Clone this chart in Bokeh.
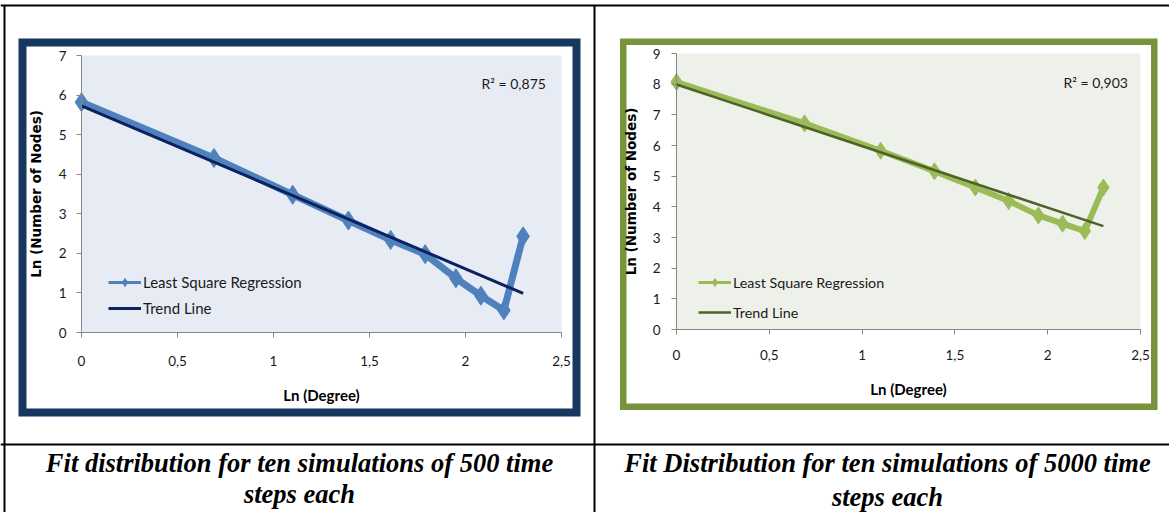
from bokeh.plotting import figure
from bokeh.models import (Range1d, FixedTicker, Label, Legend, LegendItem, LinearAxis)
from bokeh.embed import file_html
from bokeh.resources import INLINE

# ---------------- data ----------------
ln_degree = [0.0, 0.69, 1.10, 1.39, 1.61, 1.79, 1.95, 2.08, 2.20, 2.30]
ln_nodes_500 = [5.82, 4.41, 3.48, 2.83, 2.34, 1.98, 1.37, 0.93, 0.56, 2.43]
ln_nodes_5000 = [8.07, 6.72, 5.83, 5.16, 4.63, 4.19, 3.72, 3.45, 3.21, 4.63]
trend_x = [0.0, 2.30]
trend_500 = [5.73, 0.99]
trend_5000 = [7.99, 3.37]
x_ticks = [0, 0.5, 1, 1.5, 2, 2.5]
x_tick_labels = ["0", "0,5", "1", "1,5", "2", "2,5"]
y_ticks_500 = [0, 1, 2, 3, 4, 5, 6, 7]
y_ticks_5000 = [0, 1, 2, 3, 4, 5, 6, 7, 8, 9]
r2_500 = "R\u00b2 = 0,875"
r2_5000 = "R\u00b2 = 0,903"
series_name = "Least Square Regression"
trend_name = "Trend Line"
x_title = "Ln (Degree)"
y_title = "Ln (Number of Nodes)"
caption_500 = ["Fit distribution for ten simulations of 500 time", "steps each"]
caption_5000 = ["Fit Distribution for ten simulations of 5000 time", "steps each"]

W, H = 1169, 512

# one page-sized figure; default ranges are page pixels (y downwards)
p = figure(width=W, height=H, x_range=Range1d(0, W), y_range=Range1d(H, 0),
           x_axis_location=None, y_axis_location=None, min_border=0,
           output_backend="svg", toolbar_location=None)
p.grid.visible = False
p.outline_line_color = None
p.background_fill_color = "white"
p.border_fill_color = "white"

# ---- table rules ----
p.segment(x0=[0, 0, 4, 594], y0=[5, 444, 5, 5], x1=[W, W, 4, 594], y1=[5, 444, H, H],
          line_color="black", line_width=2)


def frame_box(x0, x1, y0, y1, color, w):
    p.quad(left=[x0 + w / 2], right=[x1 - w / 2], top=[y0 + w / 2], bottom=[y1 - w / 2],
           fill_alpha=0, line_color=color, line_width=w, line_join="miter")


def make_chart(cfg, name):
    px0, px1, pyt, pyb = cfg["area"]
    xmax, ymax = x_ticks[-1], cfg["yticks"][-1]
    sx = xmax / (px1 - px0)
    sy = ymax / (pyb - pyt)
    xs = -px0 * sx
    ys = -(H - pyb) * sy
    p.extra_x_ranges[name] = Range1d(xs, xs + W * sx)
    p.extra_y_ranges[name] = Range1d(ys, ys + H * sy)

    fx0, fx1, fy0, fy1, fw = cfg["frame"]
    frame_box(fx0, fx1, fy0, fy1, cfg["fc"], fw)

    # plot area
    p.quad(left=[0], right=[xmax], bottom=[0], top=[ymax], fill_color=cfg["bg"],
           line_color=None, x_range_name=name, y_range_name=name)

    # thinner copy under the series line, used only as the legend key
    key_line = p.line(ln_degree, cfg["y"], line_color=cfg["c"], line_width=3,
                      x_range_name=name, y_range_name=name)
    s_line = p.line(ln_degree, cfg["y"], line_color=cfg["c"], line_width=cfg["lw"],
                    line_join="round", x_range_name=name, y_range_name=name)
    s_pts = p.scatter(ln_degree, cfg["y"], marker="diamond", size=cfg["ms"],
                      fill_color=cfg["c"], line_color=cfg["c"],
                      x_range_name=name, y_range_name=name)
    t_line = p.line(trend_x, cfg["trend"], line_color=cfg["tc"], line_width=cfg["tw"],
                    x_range_name=name, y_range_name=name)

    xa = LinearAxis(x_range_name=name, y_range_name=name, fixed_location=0,
                    bounds=(0, xmax), ticker=FixedTicker(ticks=x_ticks))
    xa.major_label_overrides = {float(t): l for t, l in zip(x_ticks, x_tick_labels)}
    xa.major_label_standoff = cfg["xls"]
    xa.axis_label = x_title
    xa.axis_label_text_font = "Lato"
    xa.axis_label_text_font_size = "15px"
    xa.axis_label_standoff = 17

    ya = LinearAxis(x_range_name=name, y_range_name=name, fixed_location=0,
                    bounds=(0, ymax), ticker=FixedTicker(ticks=cfg["yticks"]))
    ya.major_label_standoff = cfg["yls"]
    ya.axis_label = y_title
    ya.axis_label_text_font = "DejaVu Sans"
    ya.axis_label_text_font_size = "13.5px"
    ya.axis_label_standoff = cfg["yas"]

    for ax in (xa, ya):
        ax.axis_line_color = "#868686"
        ax.major_tick_line_color = "#868686"
        ax.major_tick_out = 5
        ax.major_tick_in = 0
        ax.minor_tick_line_color = None
        ax.major_label_text_font = "Lato"
        ax.major_label_text_font_size = "13.5px"
        ax.major_label_text_color = "#1a1a1a"
        ax.axis_label_text_color = "black"
        ax.axis_label_text_font_style = "bold"
    p.add_layout(xa, "below")
    p.add_layout(ya, "left")

    legend = Legend(items=[LegendItem(label=series_name, renderers=[key_line, s_pts]),
                           LegendItem(label=trend_name, renderers=[t_line])],
                    location=cfg["legloc"], padding=0, margin=0,
                    glyph_width=33, glyph_height=20, label_height=20,
                    label_standoff=2, spacing=cfg["legsp"],
                    label_text_font="Lato", label_text_font_size=cfg["legfs"],
                    label_text_color="#1a1a1a",
                    border_line_color=None, background_fill_alpha=0)
    p.add_layout(legend)

    p.add_layout(Label(x=cfg["r2x"], y=cfg["r2y"], text=cfg["r2"], text_font="Lato",
                       text_font_size="14px", text_color="#1a1a1a",
                       text_baseline="middle", text_align="left"))

    for txt, cy in zip(cfg["cap"], cfg["capy"]):
        p.add_layout(Label(x=cfg["capx"], y=cy, text=txt, text_font="Liberation Serif",
                           text_font_style="bold italic", text_font_size="26.5px",
                           text_color="black", text_align="center", text_baseline="middle"))


make_chart(dict(
    area=(81, 561, 55, 332), yticks=y_ticks_500,
    bg="#E7ECF4", y=ln_nodes_500, trend=trend_500,
    c="#4F81BD", tc="#0B2160", tw=3, ms=19, lw=7,
    xls=18, yls=10, yas=12,
    legloc=(108, 194), legsp=6, legfs="15px",
    r2=r2_500, r2x=481, r2y=83,
    frame=(18, 580, 38, 416, 8), fc="#17375E",
    cap=caption_500, capy=[462, 493], capx=299), "c500")

make_chart(dict(
    area=(676, 1140, 53, 329), yticks=y_ticks_5000,
    bg="#EEF1E9", y=ln_nodes_5000, trend=trend_5000,
    c="#9BBB59", tc="#4F6228", tw=2.5, ms=17, lw=6,
    xls=15, yls=11, yas=11,
    legloc=(698, 190), legsp=10, legfs="14.3px",
    r2=r2_5000, r2x=1063, r2y=82,
    frame=(619.5, 1157, 38, 409.5, 6.5), fc="#77933C",
    cap=caption_5000, capy=[462, 496], capx=887), "c5000")

open("out.html", "w").write(file_html(p, INLINE))
